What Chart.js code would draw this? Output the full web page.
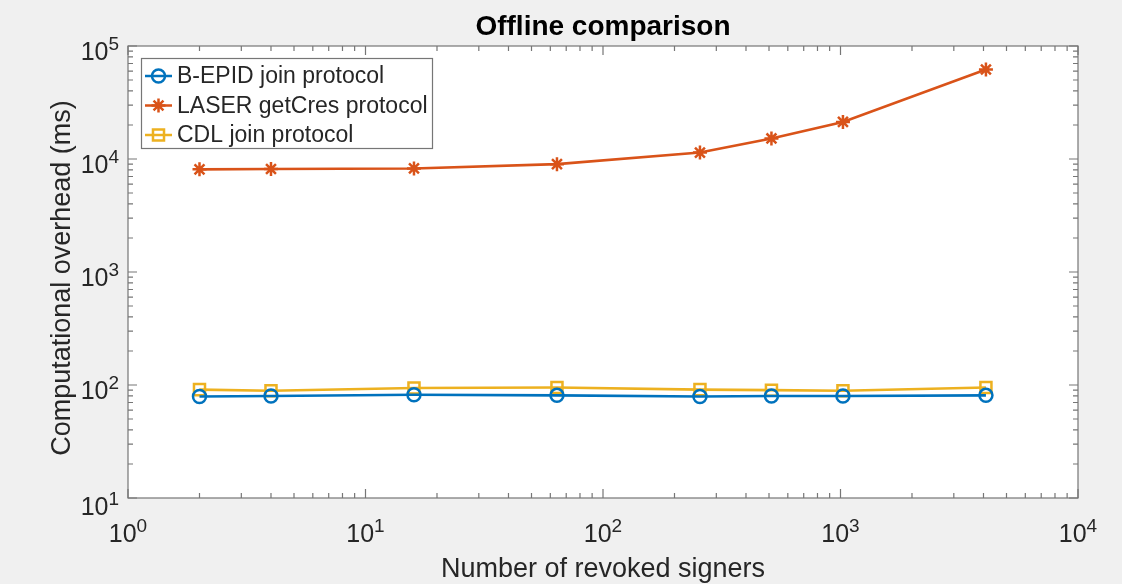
<!DOCTYPE html>
<html>
<head>
<meta charset="utf-8">
<script src="https://cdn.jsdelivr.net/npm/chart.js@4.4.0/dist/chart.umd.min.js"></script>
<style>
  html, body { margin: 0; background: #f0f0f0; }
  canvas { display: block; }
</style>
</head>
<body>
<canvas id="chart" width="1122" height="584"></canvas>
<script>
const signers = [2, 4, 16, 64, 256, 512, 1024, 4096];
const bepidJoin = [79, 80, 82, 81, 79, 80, 80, 81];
const laserGetCres = [8100, 8150, 8250, 9000, 11400, 15200, 21300, 62000];
const cdlJoin = [91, 89, 94, 95, 91, 90, 89, 95];

const xDecades = [0, 1, 2, 3, 4];
const yDecades = [1, 2, 3, 4, 5];

const FONT = '"Liberation Sans", Arial, Helvetica, sans-serif';
const AXIS_COLOR = '#767676';
const TEXT_COLOR = '#262626';

const series = [
  { label: 'B-EPID join protocol', values: bepidJoin, color: '#0072BD', style: 'circle', radius: 6.5 },
  { label: 'LASER getCres protocol', values: laserGetCres, color: '#D95319', style: 'star', radius: 7 },
  { label: 'CDL join protocol', values: cdlJoin, color: '#EDB120', style: 'rect', radius: 7.8 },
];

function drawPow10(ctx, exp, x, y, align) {
  const baseFont = '25px ' + FONT;
  const expFont = '19px ' + FONT;
  ctx.font = baseFont;
  const wb = ctx.measureText('10').width;
  ctx.font = expFont;
  const we = ctx.measureText(String(exp)).width;
  const total = wb + we;
  const left = align === 'center' ? x - total / 2 : x - total;
  ctx.textAlign = 'left';
  ctx.textBaseline = 'alphabetic';
  ctx.font = baseFont;
  ctx.fillText('10', left, y);
  ctx.font = expFont;
  ctx.fillText(String(exp), left + wb, y - 10);
}

const matlabAxes = {
  id: 'matlabAxes',
  beforeDatasetsDraw(chart) {
    const { ctx, chartArea: a } = chart;
    ctx.save();
    ctx.fillStyle = '#ffffff';
    ctx.fillRect(a.left, a.top, a.right - a.left, a.bottom - a.top);
    ctx.restore();
  },
  afterDatasetsDraw(chart) {
    const { ctx, chartArea: a } = chart;
    const xs = chart.scales.x, ys = chart.scales.y;
    ctx.save();

    // box + inward ticks
    ctx.strokeStyle = AXIS_COLOR;
    ctx.lineWidth = 1.2;
    ctx.strokeRect(a.left, a.top, a.right - a.left, a.bottom - a.top);
    ctx.beginPath();
    xDecades.forEach((d) => {
      for (let k = 1; k <= 9; k++) {
        if (d === xDecades[xDecades.length - 1] && k > 1) break;
        const px = xs.getPixelForValue(k * Math.pow(10, d));
        const len = k === 1 ? 9 : 5;
        ctx.moveTo(px, a.bottom); ctx.lineTo(px, a.bottom - len);
        ctx.moveTo(px, a.top); ctx.lineTo(px, a.top + len);
      }
    });
    yDecades.forEach((d) => {
      for (let k = 1; k <= 9; k++) {
        if (d === yDecades[yDecades.length - 1] && k > 1) break;
        const py = ys.getPixelForValue(k * Math.pow(10, d));
        const len = k === 1 ? 9 : 5;
        ctx.moveTo(a.left, py); ctx.lineTo(a.left + len, py);
        ctx.moveTo(a.right, py); ctx.lineTo(a.right - len, py);
      }
    });
    ctx.stroke();

    // tick labels
    ctx.fillStyle = TEXT_COLOR;
    xDecades.forEach((d) => {
      drawPow10(ctx, d, xs.getPixelForValue(Math.pow(10, d)), a.bottom + 44, 'center');
    });
    yDecades.forEach((d) => {
      const off = d === yDecades[0] ? 17 : 14;
      drawPow10(ctx, d, a.left - 9, ys.getPixelForValue(Math.pow(10, d)) + off, 'right');
    });

    // axis titles
    ctx.font = '27px ' + FONT;
    ctx.textAlign = 'center';
    ctx.textBaseline = 'alphabetic';
    ctx.fillText('Number of revoked signers', (a.left + a.right) / 2, 577);
    ctx.save();
    ctx.translate(70, (a.top + a.bottom) / 2 + 6);
    ctx.rotate(-Math.PI / 2);
    ctx.fillText('Computational overhead (ms)', 0, 0);
    ctx.restore();

    // title
    ctx.fillStyle = '#000000';
    ctx.font = 'bold 28px ' + FONT;
    ctx.fillText('Offline comparison', (a.left + a.right) / 2, 35);

    // legend
    const lx = 141.5, ly = 58.5, lw = 291, lh = 90;
    ctx.fillStyle = '#ffffff';
    ctx.fillRect(lx, ly, lw, lh);
    ctx.strokeStyle = AXIS_COLOR;
    ctx.lineWidth = 1.2;
    ctx.strokeRect(lx, ly, lw, lh);
    series.forEach((s, i) => {
      const y = 76 + i * 29.5;
      ctx.strokeStyle = s.color;
      ctx.lineWidth = 2.5;
      ctx.beginPath();
      ctx.moveTo(145, y); ctx.lineTo(172, y);
      ctx.stroke();
      ctx.fillStyle = 'rgba(0,0,0,0)';
      Chart.helpers.drawPoint(ctx, { pointStyle: s.style, radius: s.radius, borderWidth: 2.3 }, 158.5, y);
      ctx.fillStyle = TEXT_COLOR;
      ctx.font = '23px ' + FONT;
      ctx.textAlign = 'left';
      ctx.textBaseline = 'middle';
      ctx.fillText(s.label, 177, y + 1);
    });

    ctx.restore();
  },
};

new Chart(document.getElementById('chart'), {
  type: 'line',
  data: {
    datasets: series.map((s) => ({
      label: s.label,
      data: signers.map((x, i) => ({ x: x, y: s.values[i] })),
      borderColor: s.color,
      backgroundColor: 'rgba(0,0,0,0)',
      pointBorderColor: s.color,
      pointBackgroundColor: 'rgba(0,0,0,0)',
      pointStyle: s.style,
      pointRadius: s.radius,
      pointBorderWidth: 2.5,
      borderWidth: 2.6,
      tension: 0,
      fill: false,
    })),
  },
  options: {
    responsive: false,
    animation: false,
    devicePixelRatio: 1,
    layout: { padding: { left: 128, right: 44, top: 46, bottom: 86 } },
    plugins: { legend: { display: false }, tooltip: { enabled: false }, title: { display: false } },
    scales: {
      x: { type: 'logarithmic', min: 1, max: 10000, display: false },
      y: { type: 'logarithmic', min: 10, max: 100000, display: false },
    },
  },
  plugins: [matlabAxes],
});
</script>
</body>
</html>
